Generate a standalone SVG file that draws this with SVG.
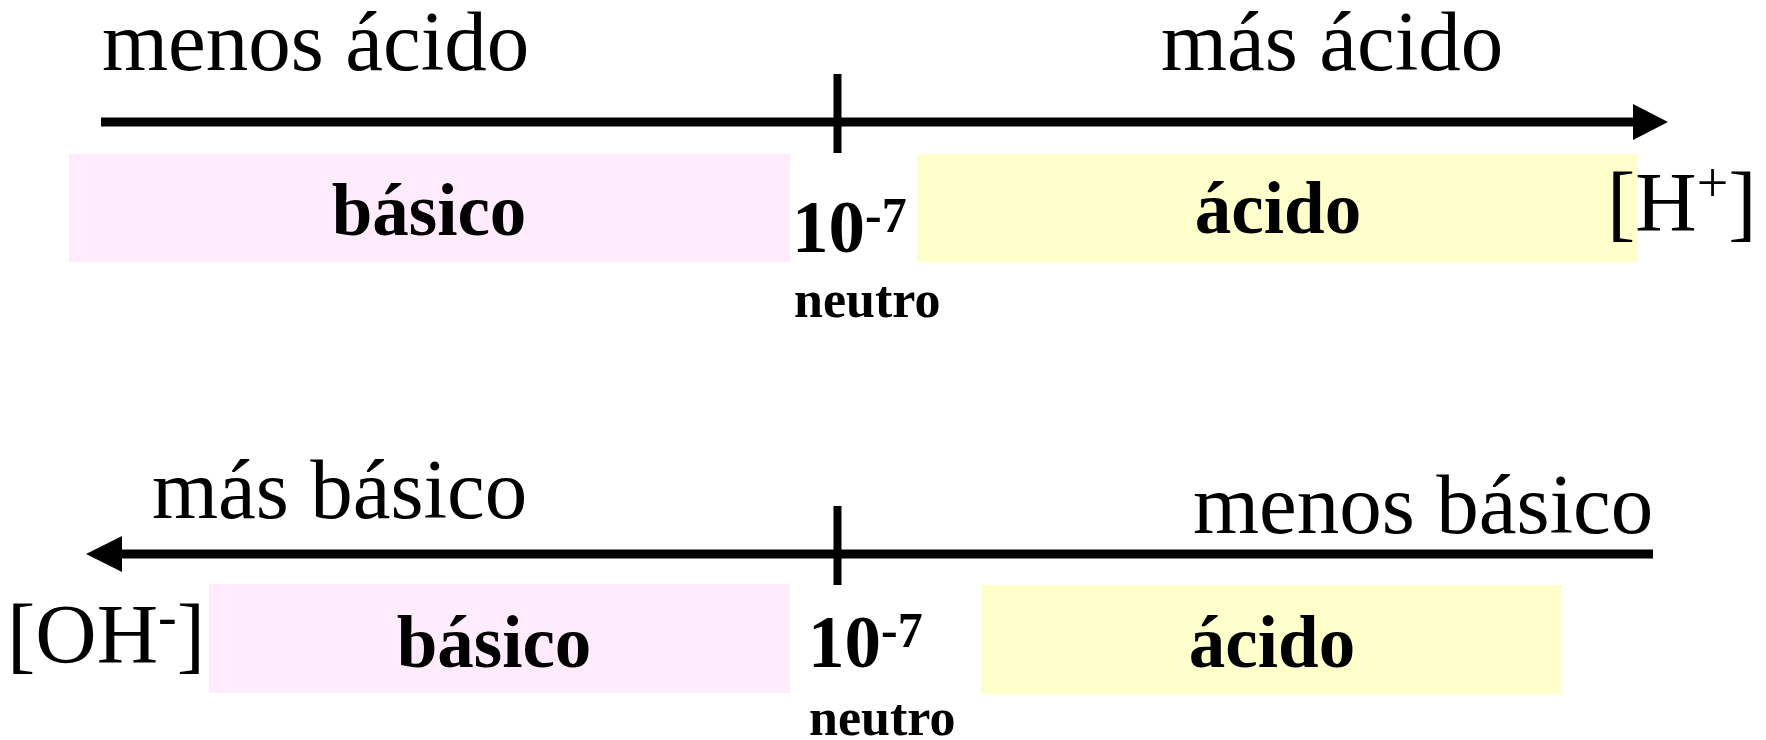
<svg xmlns="http://www.w3.org/2000/svg" width="1766" height="740" viewBox="0 0 1766 740">
  <style>
    .big { font-family: "Liberation Serif", "Times New Roman", serif; font-size: 85px; fill: #000; }
    .lbl { font-family: "Liberation Serif", "Times New Roman", serif; font-size: 73px; font-weight: bold; fill: #000; }
    .neu { font-family: "Liberation Serif", "Times New Roman", serif; font-size: 52px; font-weight: bold; fill: #000; }
    .axis { stroke: #000; stroke-width: 9; fill: none; }
    .tick { stroke: #000; stroke-width: 8; fill: none; }
    .pink { fill: #FFEBFB; }
    .yellow { fill: #FFFFCC; }
  </style>
  <rect width="1766" height="740" fill="#FFFFFF"/>

  <!-- connectors / axes -->
  <g id="connectors">
    <line class="axis" x1="101" y1="122" x2="1636" y2="122"/>
    <polygon points="1633,104 1668,122 1633,140" fill="#000"/>
    <line class="tick" x1="837.5" y1="74" x2="837.5" y2="153"/>

    <line class="axis" x1="119" y1="554" x2="1653" y2="554"/>
    <polygon points="122,536 86,554 122,572" fill="#000"/>
    <line class="tick" x1="837.5" y1="506" x2="837.5" y2="585"/>
  </g>

  <!-- top scale -->
  <g id="top-labels">
    <text class="big" x="102" y="70">menos ácido</text>
    <text class="big" x="1161" y="70">más ácido</text>
  </g>
  <g id="top-basico">
    <rect class="pink" x="69" y="154" width="721" height="108"/>
    <text class="lbl" x="429" y="235" text-anchor="middle">básico</text>
  </g>
  <g id="top-acido">
    <rect class="yellow" x="917" y="154" width="721" height="108"/>
    <text class="lbl" x="1278" y="233" text-anchor="middle">ácido</text>
  </g>
  <g id="top-neutro">
    <text class="lbl" x="792" y="252">10<tspan font-size="50" dy="-20">-7</tspan></text>
    <text class="neu" x="794" y="317">neutro</text>
  </g>
  <g id="h-ion">
    <text class="big" x="1607" y="231">[H<tspan font-size="56" dy="-29">+</tspan><tspan dy="29">]</tspan></text>
  </g>

  <!-- bottom scale -->
  <g id="bottom-labels">
    <text class="big" x="152" y="518">más básico</text>
    <text class="big" x="1193" y="533">menos básico</text>
  </g>
  <g id="oh-ion">
    <text class="big" x="7" y="663">[OH<tspan font-size="56" dy="-28">-</tspan><tspan dy="28">]</tspan></text>
  </g>
  <g id="bottom-basico">
    <rect class="pink" x="209" y="584" width="581" height="109"/>
    <text class="lbl" x="494" y="667" text-anchor="middle">básico</text>
  </g>
  <g id="bottom-acido">
    <rect class="yellow" x="981" y="585" width="580" height="109"/>
    <text class="lbl" x="1272" y="667" text-anchor="middle">ácido</text>
  </g>
  <g id="bottom-neutro">
    <text class="lbl" x="808" y="667">10<tspan font-size="50" dy="-20">-7</tspan></text>
    <text class="neu" x="809" y="735">neutro</text>
  </g>
</svg>
